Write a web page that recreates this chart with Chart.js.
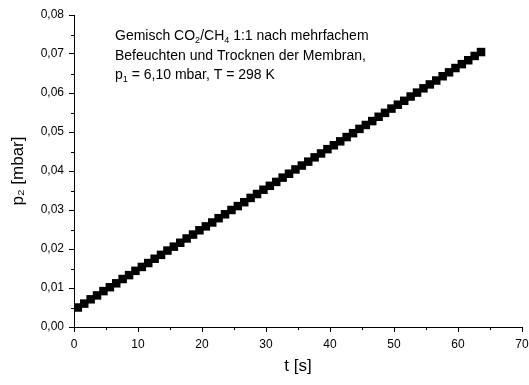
<!DOCTYPE html>
<html>
<head>
<meta charset="utf-8">
<script src="https://cdn.jsdelivr.net/npm/chart.js@4/dist/chart.umd.min.js"></script>
<style>
  html, body { margin: 0; padding: 0; background: #fff; }
  canvas { display: block; }
</style>
</head>
<body>
<canvas id="chart" width="529" height="385"></canvas>
<script>
// Messwerte: Zeit t [s] und Druck p2 [mbar]
const timeValues = [
  0.6, 1.6, 2.6, 3.6, 4.6, 5.6, 6.6, 7.6, 8.6, 9.6,
  10.6, 11.6, 12.6, 13.6, 14.6, 15.6, 16.6, 17.6, 18.6, 19.6,
  20.6, 21.6, 22.6, 23.6, 24.6, 25.6, 26.6, 27.6, 28.6, 29.6,
  30.6, 31.6, 32.6, 33.6, 34.6, 35.6, 36.6, 37.6, 38.6, 39.6,
  40.6, 41.6, 42.6, 43.6, 44.6, 45.6, 46.6, 47.6, 48.6, 49.6,
  50.6, 51.6, 52.6, 53.6, 54.6, 55.6, 56.6, 57.6, 58.6, 59.6,
  60.6, 61.6, 62.6, 63.6
];
const pressureValues = [
  0.0050, 0.0060, 0.0071, 0.0081, 0.0092, 0.0102, 0.0112, 0.0123, 0.0133, 0.0144,
  0.0154, 0.0164, 0.0175, 0.0185, 0.0196, 0.0206, 0.0216, 0.0227, 0.0237, 0.0248,
  0.0258, 0.0268, 0.0279, 0.0289, 0.0300, 0.0310, 0.0320, 0.0331, 0.0341, 0.0352,
  0.0362, 0.0372, 0.0383, 0.0393, 0.0404, 0.0414, 0.0424, 0.0435, 0.0445, 0.0456,
  0.0466, 0.0476, 0.0487, 0.0497, 0.0508, 0.0518, 0.0528, 0.0539, 0.0549, 0.0560,
  0.0570, 0.0580, 0.0591, 0.0601, 0.0612, 0.0622, 0.0632, 0.0643, 0.0653, 0.0664,
  0.0674, 0.0684, 0.0695, 0.0705
];

// Achsen
const xTicks = [0, 10, 20, 30, 40, 50, 60, 70];
const xMinorTicks = [5, 15, 25, 35, 45, 55, 65];
const yTicks = [0, 0.01, 0.02, 0.03, 0.04, 0.05, 0.06, 0.07, 0.08];
const yMinorTicks = [0.005, 0.015, 0.025, 0.035, 0.045, 0.055, 0.065, 0.075];

// Beschriftung im Diagramm, [text, subscript]-Teile pro Zeile
const noteLines = [
  [['Gemisch CO', false], ['2', true], ['/CH', false], ['4', true], [' 1:1 nach mehrfachem', false]],
  [['Befeuchten und Trocknen der Membran,', false]],
  [['p', false], ['1', true], [' = 6,10 mbar, T = 298 K', false]]
];

const FONT = "'Liberation Sans', Arial, sans-serif";

const points = timeValues.map((t, i) => ({ x: t, y: pressureValues[i] }));

// kleine Zwischenstriche + Textblock
const extrasPlugin = {
  id: 'extras',
  afterDraw(chart) {
    const ctx = chart.ctx;
    const xs = chart.scales.x;
    const ys = chart.scales.y;
    const area = chart.chartArea;
    ctx.save();
    ctx.strokeStyle = '#000';
    ctx.lineWidth = 1;
    ctx.beginPath();
    xMinorTicks.forEach(v => {
      const px = Math.round(xs.getPixelForValue(v)) + 0.5;
      ctx.moveTo(px, area.bottom);
      ctx.lineTo(px, area.bottom + 3);
    });
    yMinorTicks.forEach(v => {
      const py = Math.round(ys.getPixelForValue(v)) + 0.5;
      ctx.moveTo(area.left - 3, py);
      ctx.lineTo(area.left, py);
    });
    ctx.stroke();

    ctx.fillStyle = '#000';
    ctx.textBaseline = 'alphabetic';
    ctx.textAlign = 'left';
    let baseY = area.top + 25;
    noteLines.forEach(line => {
      let x = area.left + 41;
      line.forEach(([txt, sub]) => {
        ctx.font = (sub ? '9px ' : '14px ') + FONT;
        ctx.fillText(txt, x, sub ? baseY + 3 : baseY);
        x += ctx.measureText(txt).width;
      });
      baseY += 19.5;
    });
    ctx.restore();
  }
};

new Chart(document.getElementById('chart'), {
  type: 'scatter',
  data: {
    datasets: [{
      data: points,
      pointStyle: 'rect',
      pointRadius: 6,
      backgroundColor: '#000',
      borderWidth: 0,
      showLine: false
    }]
  },
  options: {
    responsive: false,
    animation: false,
    layout: { padding: { top: 15, right: 0, left: 0, bottom: 0 } },
    plugins: { legend: { display: false }, tooltip: { enabled: false } },
    scales: {
      x: {
        type: 'linear',
        min: 0,
        max: 70,
        afterFit(scale) {
          scale.height = 58;
          scale.paddingRight = 7;
        },
        afterBuildTicks(scale) { scale.ticks = xTicks.map(v => ({ value: v })); },
        border: { display: true, color: '#000', width: 1 },
        grid: { drawOnChartArea: false, tickLength: 5, color: '#000' },
        ticks: { color: '#000', padding: 5, font: { family: FONT, size: 12 } },
        title: {
          display: true,
          text: 't [s]',
          color: '#000',
          font: { family: FONT, size: 17 },
          padding: { top: 0, bottom: 8 }
        }
      },
      y: {
        type: 'linear',
        min: 0,
        max: 0.08,
        afterFit(scale) { scale.width = 74; },
        afterBuildTicks(scale) { scale.ticks = yTicks.map(v => ({ value: v })); },
        border: { display: true, color: '#000', width: 1 },
        grid: { drawOnChartArea: false, tickLength: 5, color: '#000' },
        ticks: {
          color: '#000',
          padding: 5,
          font: { family: FONT, size: 12 },
          callback: v => v.toFixed(2).replace('.', ',')
        },
        title: {
          display: true,
          text: 'p₂ [mbar]',
          color: '#000',
          font: { family: FONT, size: 17 },
          padding: { top: 8, bottom: 0 }
        }
      }
    }
  },
  plugins: [extrasPlugin]
});
</script>
</body>
</html>
